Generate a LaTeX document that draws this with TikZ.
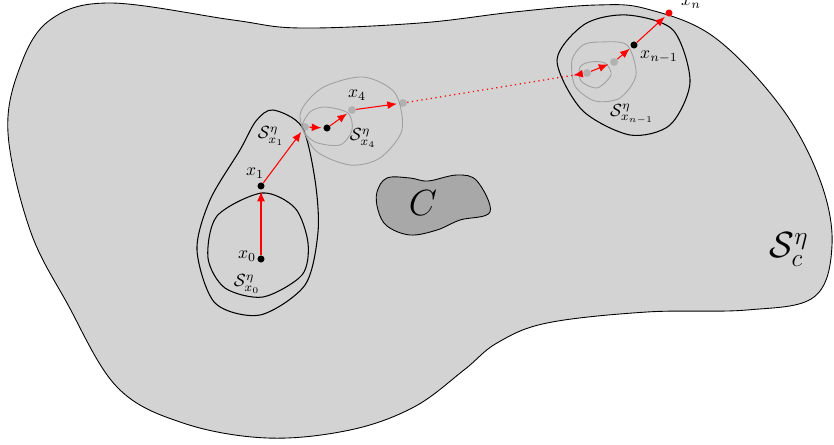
\documentclass[tikz,border=0pt]{standalone}
\usepackage{amsmath}
\usetikzlibrary{arrows.meta}
\definecolor{regiongray}{RGB}{211,211,211}
\definecolor{obstaclegray}{RGB}{168,168,168}
\definecolor{loopgray}{RGB}{160,160,160}
\begin{document}
\begin{tikzpicture}[x=0.02cm, y=-0.02cm, >={Latex[length=5.5pt,width=4.5pt]}]
\tikzstyle{region} = [draw, fill=regiongray, line width=0.5pt]
\tikzstyle{obstacle} = [draw, fill=obstaclegray, line width=0.5pt]
\tikzstyle{blackloop} = [draw, black, line width=0.6pt]
\tikzstyle{grayloop} = [draw, loopgray, line width=0.5pt]
\tikzstyle{blackdot} = [circle, fill=black, inner sep=0pt, minimum size=4pt]
\tikzstyle{graydot} = [circle, fill=gray, fill opacity=0.4, inner sep=0pt, minimum size=4.5pt]
\tikzstyle{reddot} = [circle, fill=red, inner sep=0pt, minimum size=4pt]
\tikzstyle{move} = [draw, red, ->, line width=0.6pt, shorten >=1pt]
\useasboundingbox (0,0) rectangle (834,445);

% Safe set S_c^eta
\path [region] plot [smooth cycle, tension=0.6] coordinates {(110,3) (233,20) (300,28) (420,23) (514,12) (597,5) (647,9) (714,37) (781,107) (820,180) (832,245) (814,297) (747,310) (647,312) (547,323) (497,343) (464,370) (414,407) (350,430) (267,438) (183,423) (117,387) (67,303) (30,230) (8,133) (20,67) (50,20)};

% Obstacle C
\path [obstacle] plot [smooth cycle, tension=0.6] coordinates {(377,192) (387,178) (410,178) (428,181) (457,175) (477,181) (490,212) (460,220) (437,230) (410,235) (387,226) (378,210)};
\node [font=\huge] (C) at (423,203) {$C$};

% Level sets around the points
\path [blackloop] plot [smooth cycle] coordinates {(262,193) (295,208) (308,243) (302,275) (263,297) (225,288) (208,258) (217,216)};
\path [blackloop] plot [smooth cycle] coordinates {(273,110) (302,127) (315,180) (318,232) (305,285) (260,315) (215,303) (197,250) (210,200) (240,150) (256,121)};
\path [grayloop] plot [smooth cycle] coordinates {(363,77) (395,93) (402,130) (380,158) (350,165) (315,150) (300,115) (322,88)};
\path [grayloop] plot [smooth cycle] coordinates {(325,107) (348,113) (352,130) (340,145) (315,142) (302,128) (310,112)};
\path [blackloop] plot [smooth cycle] coordinates {(627,15) (673,30) (690,82) (670,125) (630,135) (582,110) (557,60) (585,24)};
\path [grayloop] plot [smooth cycle] coordinates {(600,42) (627,45) (636,75) (620,98) (595,101) (575,86) (572,60) (583,45)};
\path [grayloop] plot [smooth cycle] coordinates {(590,62) (605,63) (611,75) (597,88) (581,81) (580,67)};

% Points of the sequence
\node [blackdot] (x0) at (261,259) {};
\node [blackdot] (x1) at (261,186) {};
\node [graydot] (g1) at (305,127) {};
\node [blackdot] (xb) at (327,128) {};
\node [graydot] (g2) at (352,110) {};
\node [graydot] (g3) at (403,103) {};
\node [graydot] (g4) at (587,73) {};
\node [graydot] (g5) at (614,62) {};
\node [blackdot] (xn1) at (634,45) {};
\node [reddot] (xn) at (669,13) {};

% Moves between the points
\draw [move] (x0) -- (x1);
\draw [move] (x1) -- (g1);
\draw [move] (g1) -- (xb);
\draw [move] (xb) -- (g2);
\draw [move] (g2) -- (g3);
\draw [red, dotted, line width=0.7pt, -{Latex[length=5.5pt,width=4.5pt,reversed]}] (g3) -- (g4);
\draw [move] (g4) -- (g5);
\draw [move] (g5) -- (xn1);
\draw [move] (xn1) -- (xn);

% Labels
\node (lx0) at (247,256) {$x_0$};
\node (lsx0) at (247,284) {$\mathcal{S}^\eta_{x_0}$};
\node (lx1) at (255,173) {$x_1$};
\node (lsx1) at (271,136) {$\mathcal{S}^\eta_{x_1}$};
\node (lx4) at (357,95) {$x_4$};
\node (lsx4) at (363,138) {$\mathcal{S}^\eta_{x_4}$};
\node (lxn1) at (659,57) {$x_{n-1}$};
\node (lsxn1) at (632,114) {$\mathcal{S}^\eta_{x_{n-1}}$};
\node (lxn) at (691,3) {$x_n$};
\node [font=\huge] (lsc) at (789,250) {$\mathcal{S}^\eta_c$};
\end{tikzpicture}
\end{document}
